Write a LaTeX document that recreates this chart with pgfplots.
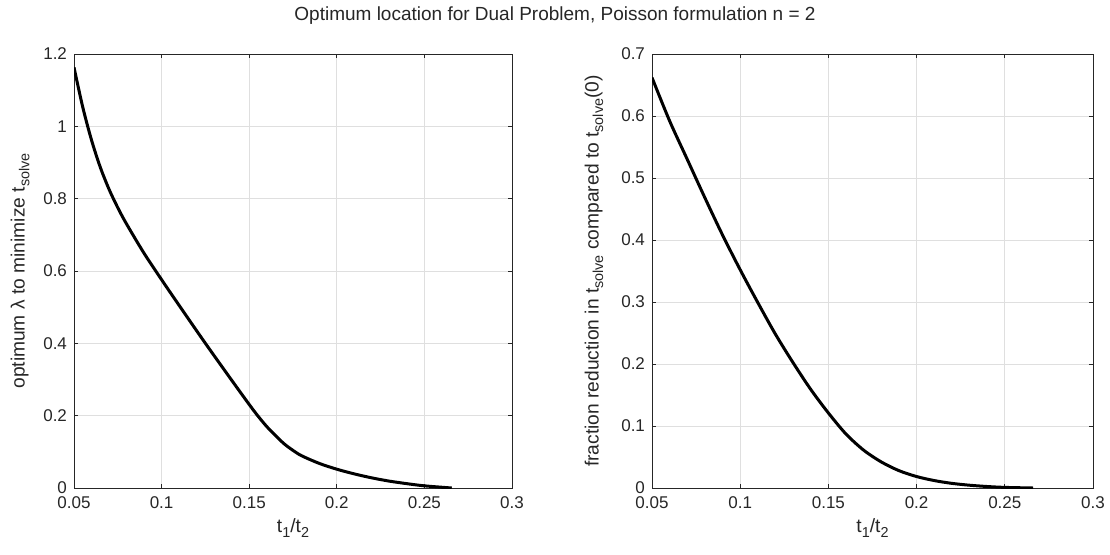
\documentclass[border=0pt]{standalone}
\usepackage{pgfplots}
\pgfplotsset{compat=1.18}
\usepackage{fontspec}
\setmainfont{Liberation Sans}
\definecolor{txt}{HTML}{262626}
\definecolor{gridc}{HTML}{DFDFDF}
\newcommand\sub[1]{\raisebox{-0.45ex}{\fontsize{7.2}{8}\selectfont #1}}
\pgfplotsset{
  mystyle/.style={
    scale only axis,
    width=219pt, height=217pt,
    xmin=0.05, xmax=0.3,
    xtick={0.05,0.1,0.15,0.2,0.25,0.3},
    xticklabels={0.05,0.1,0.15,0.2,0.25,0.3},
    grid=major,
    major grid style={gridc, line width=0.4pt},
    axis line style={txt, line width=0.4pt},
    tick style={txt, line width=0.4pt},
    tick align=inside,
    major tick length=2.2pt,
    xtick pos=both, ytick pos=both,
    tick label style={font=\fontsize{8.5}{10}\selectfont, text=txt},
    label style={font=\fontsize{9.6}{11}\selectfont, text=txt},
    /pgf/number format/assume math mode=true,
    xticklabel style={yshift=-1pt},
    xlabel={t\sub{1}/t\sub{2}},
    xlabel style={at={(axis description cs:0.5,0)}, anchor=center, yshift=-20pt},
  }
}
\begin{document}
\begin{tikzpicture}
\useasboundingbox (-37pt,-33pt) rectangle (518pt,244pt);
\begin{axis}[mystyle, at={(0pt,0pt)}, anchor=south west,
  ymin=0, ymax=1.2,
  ytick={0,0.2,0.4,0.6,0.8,1,1.2},
  yticklabels={0,0.2,0.4,0.6,0.8,1,1.2},
  ylabel={optimum λ to minimize t\sub{solve}},
  ylabel style={at={(axis description cs:-0.123,0.5)}, anchor=center},
]
\addplot[black, line width=1.5pt, smooth, tension=0.5] coordinates {
(0.05,1.163) (0.055,1.053) (0.06,0.962) (0.065,0.887) (0.07,0.826) (0.075,0.775)
(0.08,0.730) (0.09,0.649) (0.1,0.576) (0.11,0.505) (0.125,0.4) (0.14,0.298)
(0.15,0.231) (0.155,0.199) (0.16,0.170) (0.165,0.145) (0.17,0.122) (0.175,0.104)
(0.18,0.089) (0.19,0.068) (0.2,0.052) (0.21,0.039) (0.22,0.028) (0.23,0.019)
(0.24,0.012) (0.25,0.006) (0.2656,0.0)
};
\end{axis}
\begin{axis}[mystyle, at={(289pt,0pt)}, anchor=south west,
  width=220.5pt,
  ymin=0, ymax=0.7,
  ytick={0,0.1,0.2,0.3,0.4,0.5,0.6,0.7},
  yticklabels={0,0.1,0.2,0.3,0.4,0.5,0.6,0.7},
  ylabel={fraction reduction in t\sub{solve} compared to t\sub{solve}(0)},
  ylabel style={at={(axis description cs:-0.1315,0.5)}, anchor=center},
]
\addplot[black, line width=1.5pt, smooth, tension=0.5] coordinates {
(0.05,0.662) (0.06,0.592) (0.07,0.530) (0.08,0.468) (0.09,0.408) (0.1,0.352)
(0.11,0.299) (0.12,0.248) (0.13,0.202) (0.14,0.159) (0.15,0.121) (0.16,0.087)
(0.17,0.061) (0.18,0.042) (0.19,0.028) (0.2,0.0185) (0.21,0.012) (0.22,0.0075)
(0.23,0.0045) (0.24,0.0024) (0.25,0.001) (0.266,0.0)
};
\end{axis}
\node[font=\fontsize{9.5}{11}\selectfont, text=txt] at (240.5pt,236pt) {Optimum location for Dual Problem, Poisson formulation n = 2};
\end{tikzpicture}
\end{document}
